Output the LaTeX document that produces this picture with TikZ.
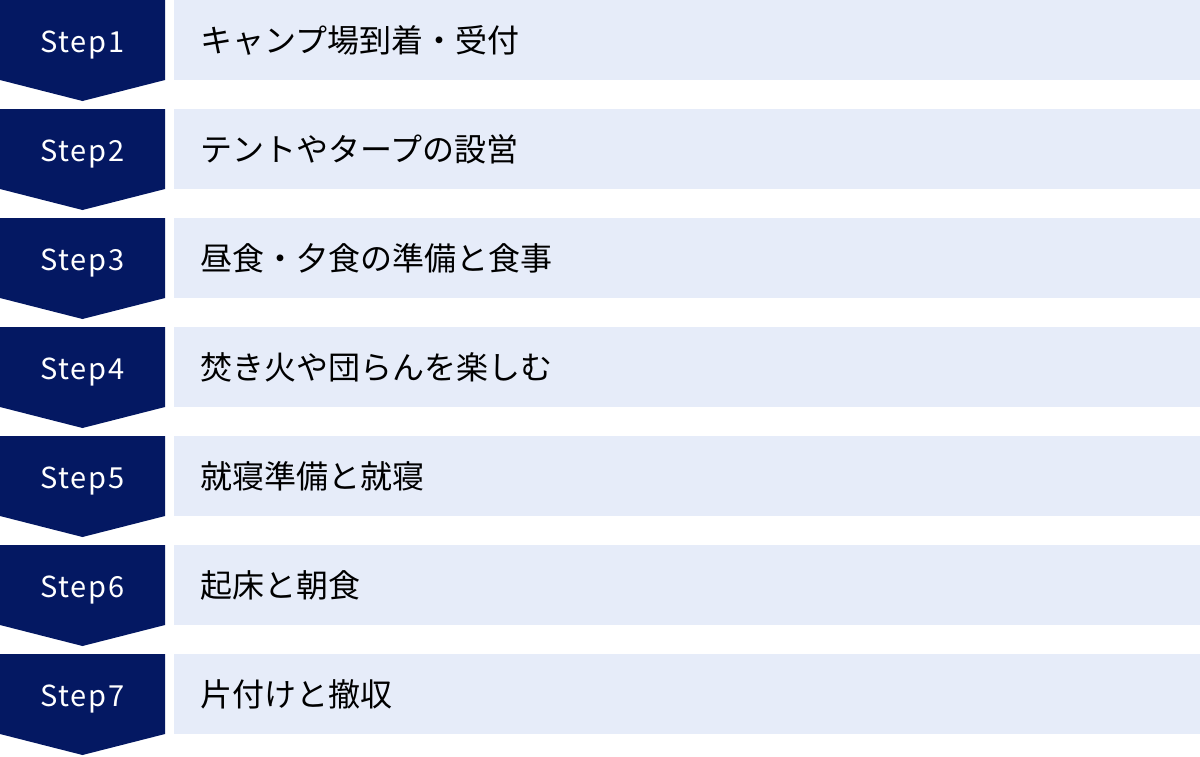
\documentclass[tikz,border=0pt]{standalone}
\usepackage{fontspec}
\setmainfont{Noto Sans CJK JP}
\newfontfamily\steplatin[LetterSpace=6]{Noto Sans CJK JP}
\definecolor{stepnavy}{HTML}{041862}
\definecolor{taskfill}{HTML}{E6ECF9}
\tikzset{
  stepshape/.style={fill=stepnavy},
  steplabel/.style={text=white, anchor=base, font=\steplatin\fontsize{29pt}{34pt}\selectfont, inner sep=0pt},
  taskbox/.style={fill=taskfill, anchor=west, minimum height=80pt, text width=974pt,
    inner xsep=26pt, inner ysep=0pt, align=left, font=\fontsize{32pt}{38pt}\selectfont}
}
\begin{document}
\begin{tikzpicture}[x=1pt,y=-1pt]
  \useasboundingbox (0,0) rectangle (1200,756);
  % step chevrons
  \fill[stepshape] (0,0) -- (165,0) -- (165,80) -- (82.5,101) -- (0,80) -- cycle;
  \fill[stepshape] (0,109) -- (165,109) -- (165,189) -- (82.5,210) -- (0,189) -- cycle;
  \fill[stepshape] (0,218) -- (165,218) -- (165,298) -- (82.5,319) -- (0,298) -- cycle;
  \fill[stepshape] (0,327) -- (165,327) -- (165,407) -- (82.5,428) -- (0,407) -- cycle;
  \fill[stepshape] (0,436) -- (165,436) -- (165,516) -- (82.5,537) -- (0,516) -- cycle;
  \fill[stepshape] (0,545) -- (165,545) -- (165,625) -- (82.5,646) -- (0,625) -- cycle;
  \fill[stepshape] (0,654) -- (165,654) -- (165,734) -- (82.5,755) -- (0,734) -- cycle;
  % step labels
  \draw
    (82.5,52) node[steplabel] (s1){Step1}
    (82.5,161) node[steplabel] (s2){Step2}
    (82.5,270) node[steplabel] (s3){Step3}
    (82.5,379) node[steplabel] (s4){Step4}
    (82.5,488) node[steplabel] (s5){Step5}
    (82.5,597) node[steplabel] (s6){Step6}
    (82.5,706) node[steplabel] (s7){Step7};
  % tasks
  \draw
    (174,40) node[taskbox] (t1){キャンプ場到着・受付}
    (174,149) node[taskbox] (t2){テントやタープの設営}
    (174,258) node[taskbox] (t3){昼食・夕食の準備と食事}
    (174,367) node[taskbox] (t4){焚き火や団らんを楽しむ}
    (174,476) node[taskbox] (t5){就寝準備と就寝}
    (174,585) node[taskbox] (t6){起床と朝食}
    (174,694) node[taskbox] (t7){片付けと撤収};
\end{tikzpicture}
\end{document}
